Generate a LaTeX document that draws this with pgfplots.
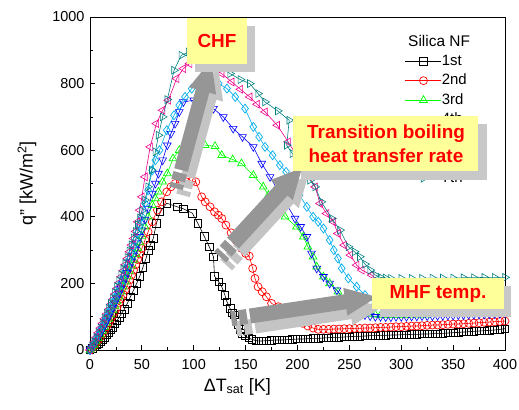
\documentclass[border=0pt]{standalone}
\usepackage{fontspec}
\setmainfont{Liberation Sans}
\usepackage{pgfplots}
\pgfplotsset{compat=1.18}
\usetikzlibrary{calc}

\definecolor{teal7}{RGB}{0,128,128}
\definecolor{boxyellow}{RGB}{255,255,153}
\definecolor{shadowgray}{RGB}{200,200,200}
\definecolor{arrowdark}{RGB}{150,150,150}
\definecolor{arrowlight}{RGB}{196,196,196}

% block arrow: tail A, tip B, shaft half width, head half width, head length, fill
\newcommand{\blockarrow}[6]{%
  \coordinate (baH) at ($(#2)!#5!(#1)$);
  \fill[#6] ($(#1)!#3!90:(#2)$) -- ($(baH)!#3!90:(#2)$) -- ($(baH)!#4!90:(#2)$) -- (#2)
    -- ($(baH)!#4!-90:(#2)$) -- ($(baH)!#3!-90:(#2)$) -- ($(#1)!#3!-90:(#2)$) -- cycle;}
% shaft segment from C to D with half width
\newcommand{\shaftseg}[4]{%
  \fill[#4] ($(#1)!#3!90:(#2)$) -- ($(#2)!#3!-90:(#1)$) -- ($(#2)!#3!90:(#1)$) -- ($(#1)!#3!-90:(#2)$) -- cycle;}
% full arrow with broken tail
\newcommand{\fullarrow}[6]{%
  \coordinate (faA) at (#1);
  \coordinate (faB) at (#2);
  \coordinate (faT1) at ($(faA)!-3bp!(faB)$);
  \coordinate (faT2) at ($(faA)!-11bp!(faB)$);
  \coordinate (faT3) at ($(faA)!-14bp!(faB)$);
  \coordinate (faT4) at ($(faA)!-19bp!(faB)$);
  \blockarrow{faA}{faB}{#3}{#4}{#5}{#6}
  \shaftseg{faT1}{faT2}{#3}{#6}
  \shaftseg{faT3}{faT4}{#3}{#6}}

\begin{document}
\begin{tikzpicture}
\begin{axis}[
  scale only axis, width=415bp, height=333bp,
  xmin=0, xmax=400, ymin=0, ymax=1000,
  xtick={0,50,...,400}, ytick={0,200,...,1000},
  minor x tick num=1, minor y tick num=1,
  tick align=inside, tick pos=left,
  major tick length=5bp, minor tick length=3bp,
  tick style={black, line width=0.8pt},
  axis line style={line width=1pt},
  ticklabel style={font=\fontsize{14.5}{16}\selectfont},
  xticklabel style={yshift=-6bp},
  yticklabel style={xshift=-2bp},
  /pgf/number format/assume math mode=true,
  /pgf/number format/1000 sep={},
  xlabel={ΔT\textsubscript{sat} [K]},
  ylabel={q" [kW/m\textsuperscript{2}]},
  label style={font=\fontsize{18}{20}\selectfont},
  xlabel style={at={(axis description cs:0.355,-0.11)}, anchor=center},
  ylabel style={at={(axis description cs:-0.152,0.5)}, anchor=center},
  every axis plot/.append style={line width=0.6pt, mark options={solid, line width=0.7pt}},
  legend image code/.code={\draw[mark repeat=2,mark phase=2] plot coordinates {(0bp,0bp) (18bp,0bp) (36bp,0bp)};},
  legend style={at={(axis cs:303.6,889)}, anchor=north west, draw=none, fill=none,
    font=\fontsize{15}{17}\selectfont, row sep=5.5bp, inner sep=0pt,
    nodes={inner sep=0pt, text height=11bp, text depth=3bp}},
  legend cell align=left,
]
\coordinate (O) at (axis cs:0,0);
% 1st
\addplot[black, mark=square, mark size=3.8bp] table {
0 0
2 5
4 10
6 15
8 20
10 25
12 30
14 38
16 45
18 52
20 60
22 68
24 78
26 88
28 98
30 108
33 122
36 140
39 160
42 180
45 200
48 222
51 248
54 275
56 300
58 315
61 335
64 380
67.5 415
74 441
84 430
90 424
98.6 411
104 380
110 342
115 310
119 280
120 222
124 205
127 190
130 165
132 145
135 125
137 112
139 105
141 90
143 75
145 62
147 50
150 42
153 36
156 32
160 28
165 27
170 28
175 29
180 30
185 30
190 31
195 32
200 33
205 33
210 34
215 35
220 35
225 36
230 37
235 38
240 38
245 39
250 40
255 41
260 41
265 42
270 43
275 43
280 44
285 44
290 45
295 45
300 46
305 46
310 47
315 47
320 48
325 48
330 49
335 49
340 50
345 51
350 52
355 53
360 54
365 55
370 56
375 57
380 58
385 59
390 60
395 62
400 64
};
\addlegendentry{1st}
% 2nd
\addplot[red, mark=o, mark size=4bp] table {
0 0
2 6
4 13
6 21
8 30
10 39
12 49
14 59
16 70
18 81
20 92
22 104
24 116
26 128
28 141
30 154
32 167
34 181
36 195
38 210
40 225
42 240
44 256
46 272
48 288
50 305
53 330
56 355
60 385
65 420
69 445
74 475
78 490
82 500
87 505
93 505
98 507
102 505
107.6 460
111 445
115.7 430
120 415
123.7 405
127 395
131 375
136 352
141 328
146 305
150 290
153.5 282
156.8 245
159 215
162 190
166 175
170 160
175 140
181.5 130
188 118
194 105
200 90
205 80
210 72
215 66
220 62
225 62
230 62
235 63
240 63
245 64
250 64
255 65
260 65
265 66
270 66
275 67
280 68
285 68
290 69
295 70
300 70
305 71
310 72
315 72
320 73
325 74
330 75
335 75
340 76
345 77
350 78
355 78
360 79
365 80
370 81
375 82
380 83
385 84
390 85
395 86
400 87
};
\addlegendentry{2nd}
% 3rd
\addplot[green, mark=triangle, mark size=4.5bp] table {
0 0
2 7
4 15
6 25
8 35
10 46
12 57
14 69
16 81
18 93
20 106
22 119
24 132
26 146
28 160
30 175
32 190
34 205
36 221
38 237
40 253
42 270
44 287
46 305
48 323
50 342
53 370
56 400
60 435
63 455
66 475
70 505
74.5 530
80 575
86 600
95 615
104 620
111 615
120.5 612
127 585
137.5 572
146 560
157.4 525
167 490
172 465
178 440
188 400
199 370
205.6 340
210 310
215 280
218.5 250
225 220
231 200
239 175
245 150
252 130
260 115
268 108
275 106
280 105
285 105
290 105
295 105
300 105
305 105
310 106
315 106
320 106
325 106
330 107
335 107
340 107
345 107
350 108
355 108
360 108
365 108
370 109
375 109
380 109
385 110
390 110
395 110
400 111
};
\addlegendentry{3rd}
% 4th
\addplot[blue, mark=triangle, mark options={rotate=180}, mark size=4.5bp] table {
0 0
2 8
4 17
6 28
8 39
10 50
12 62
14 74
16 87
18 100
20 113
22 127
24 141
26 155
28 170
30 185
32 200
34 216
36 232
38 249
40 266
42 284
44 302
46 321
48 340
50 360
53 392
56 425
60 470
63 500
66 530
70 570
74.5 615
78 650
82 680
86 715
90 745
100 750
110 738
119 725
128.5 700
138 665
147 640
157.4 610
165.5 560
173.5 520
181 480
189 440
197.6 395
203 370
209 340
213.5 290
218.5 245
225 220
231 200
238 180
245 150
252 125
258 112
265 105
270 102
275 100
280 100
285 99
290 99
295 100
300 100
305 100
310 101
315 101
320 102
325 102
330 102
335 103
340 103
345 104
350 104
355 105
360 105
365 106
370 106
375 107
380 107
385 108
390 108
395 109
400 110
};
\addlegendentry{4th}
% 5th
\addplot[cyan, mark=diamond, mark size=4.5bp] table {
0 0
2 9
4 20
6 32
8 45
10 58
12 71
14 85
16 99
18 113
20 127
22 142
24 157
26 172
28 188
30 204
32 220
34 237
36 254
38 272
40 290
42 310
44 330
46 352
48 375
50 400
53 440
56 480
60 540
63 570
67 600
74 660
81 705
86 735
91.6 760
98 785
106 805
115 810
124 800
132 785
140 760
149.4 725
157.4 670
163 640
168.7 610
176 585
183 555
189 535
195 505
202 465
209 430
215 400
220 385
225 365
231 330
235 300
239 275
242.6 245
249 215
257 190
265 165
275 140
285 125
290 121
295 119
300 118
305 118
310 118
315 119
320 119
325 119
330 120
335 120
340 120
345 120
350 121
355 121
360 121
365 122
370 122
375 122
380 123
385 123
390 123
395 124
400 124
};
\addlegendentry{5th}
% 6th
\addplot[magenta, mark=triangle, mark options={rotate=90}, mark size=4.5bp] table {
0 0
2 10
4 24
6 38
8 52
10 66
12 80
14 94
16 108
18 122
20 137
22 152
24 168
26 185
28 202
30 220
32 238
34 256
36 275
38 295
40 315
42 335
44 356
46 385
48 420
50 460
53 520
58 610
64 680
70 720
75.5 750
83.5 815
90 845
96 860
106 862
116 850
127 830
136.6 805
145 783
154 760
161 738
168.7 715
180.5 675
191 625
200 580
208 535
217 490
221.7 440
228 410
234.5 385
239 350
245 315
251 285
257 255
262 240
271.5 225
280 200
290 172
300 155
310 145
320 141
330 140
340 140
350 140
360 140
370 140
380 140
390 140
400 140
};
\addlegendentry{6th}
% 7th
\addplot[teal7, mark=triangle, mark options={rotate=-90}, mark size=4.5bp] table {
0 0
2 12
4 25
6 38
8 52
10 66
12 80
14 95
16 110
18 125
20 140
22 155
24 172
26 190
28 208
30 226
32 243
34 260
36 278
38 297
40 316
42 336
44 356
46 376
48 397
50 418
53 450
56 490
59.5 540
63 595
66 645
70 700
74.5 752
81 840
88 885
95 895
105 890
115 872
125 852
135 830
145 812
154 800
162 770
168.7 745
181 718
192 690
189.6 615
195 590
200 570
206 540
212 510
217 490
223 445
233 395
241 360
249 310
255 295
260 280
265 258
270 240
275 225
280 218
285 216
290 215
300 215
310 215
320 215
330 216
340 216
350 216
360 217
370 217
380 218
390 218
400 218
};
\addlegendentry{7th}
\end{axis}

\begin{scope}[shift={(O)}, xshift=-90bp, yshift=350bp, x=1bp, y=-1bp]
  \coordinate (TL) at (0,0);
  \coordinate (BR) at (519,409);
  \node[anchor=west, inner sep=0pt, font=\fontsize{15.5}{17}\selectfont] at (408,41) {Silica NF};
  % arrows: light shadow first
  \fullarrow{188,177}{218,67}{7bp}{14bp}{32bp}{arrowlight}
  \fullarrow{181,170}{211,60}{7bp}{14bp}{32bp}{arrowdark}
  \fullarrow{239,251}{308,176}{8bp}{15bp}{30bp}{arrowlight}
  \fullarrow{233,243}{302,168}{8bp}{15bp}{30bp}{arrowdark}
  \fullarrow{255,326}{382,307}{7.5bp}{14bp}{32bp}{arrowlight}
  \fullarrow{250,316}{377,297}{7.5bp}{14bp}{32bp}{arrowdark}
  % boxes
  \fill[shadowgray] (195,26) rectangle (255,72);
  \fill[boxyellow] (187,18) rectangle (247,64);
  \node[red, font=\fontsize{19}{21}\selectfont\bfseries] at (217,41) {CHF};
  \fill[shadowgray] (301,124) rectangle (487,180);
  \fill[boxyellow] (293,116) rectangle (478,171);
  \node[red, font=\fontsize{19}{24}\selectfont\bfseries, align=center] at (386,144) {Transition boiling\\heat transfer rate};
  \fill[shadowgray] (380,286) rectangle (511,317);
  \fill[boxyellow] (372,278) rectangle (504,309);
  \node[red, font=\fontsize{19}{21}\selectfont\bfseries] at (438,293.5) {MHF temp.};
\end{scope}
\pgfresetboundingbox
\path (TL) rectangle (BR);
\end{tikzpicture}
\end{document}
